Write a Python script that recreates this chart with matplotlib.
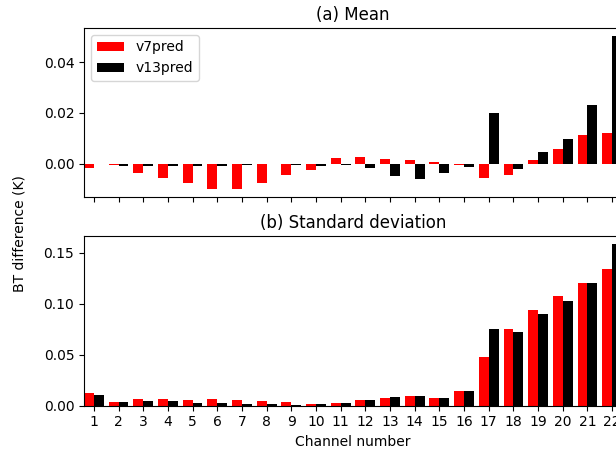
import numpy as np
import matplotlib
matplotlib.use("Agg")
import matplotlib.pyplot as plt

# Channel numbers
channels = np.arange(1, 23)

# Mean BT difference (K)
v7MeanDiff = [-0.0017, -0.0005, -0.0035, -0.0055, -0.0075, -0.0099, -0.0101, -0.0075,
              -0.0044, -0.0023, 0.0022, 0.0026, 0.0017, 0.0016, 0.0005, -0.0005,
              -0.0058, -0.0046, 0.0013, 0.0056, 0.0114, 0.0122]
v13MeanDiff = [-0.0003, -0.0010, -0.0010, -0.0010, -0.0010, -0.0008, -0.0005, -0.0002,
               -0.0005, -0.0010, -0.0005, -0.0018, -0.0047, -0.0062, -0.0038, -0.0013,
               0.0201, -0.0022, 0.0047, 0.0097, 0.0231, 0.0504]

# Standard deviation of BT difference (K)
v7StdDiff = [0.0121, 0.0039, 0.0062, 0.0062, 0.0060, 0.0065, 0.0060, 0.0048,
             0.0035, 0.0020, 0.0030, 0.0056, 0.0075, 0.0092, 0.0075, 0.0147,
             0.0477, 0.0749, 0.0938, 0.1076, 0.1206, 0.1340]
v13StdDiff = [0.0105, 0.0038, 0.0049, 0.0043, 0.0030, 0.0023, 0.0020, 0.0020,
              0.0010, 0.0015, 0.0030, 0.0055, 0.0082, 0.0095, 0.0075, 0.0147,
              0.0755, 0.0723, 0.0899, 0.1023, 0.1206, 0.1585]

fig = plt.figure(figsize=(6.16, 4.5), dpi=100)
axMean = fig.add_axes([0.1364, 0.5622, 0.8733, 0.3756])
axStd = fig.add_axes([0.1364, 0.0984, 0.8733, 0.3772], sharex=axMean)

barWidth = 0.4

#Mean panel
axMean.bar(channels - barWidth, v7MeanDiff, barWidth, align="edge", color="red", label="v7pred")
axMean.bar(channels, v13MeanDiff, barWidth, align="edge", color="black", label="v13pred")
axMean.set_title("(a) Mean", fontsize=12)
axMean.legend(loc="upper left")
axMean.set_yticks([0.0, 0.02, 0.04])
plt.setp(axMean.get_xticklabels(), visible=False)

#Standard deviation panel
axStd.bar(channels - barWidth, v7StdDiff, barWidth, align="edge", color="red")
axStd.bar(channels, v13StdDiff, barWidth, align="edge", color="black")
axStd.set_title("(b) Standard deviation", fontsize=12)
axStd.set_yticks([0.0, 0.05, 0.10, 0.15])
axStd.set_xticks(channels)
axStd.set_xlim(0.6, 22.4)
axStd.set_xlabel("Channel number")

fig.text(0.032, 0.482, "BT difference (K)", rotation=90, ha="center", va="center")

fig.savefig("out.png", dpi=100)
